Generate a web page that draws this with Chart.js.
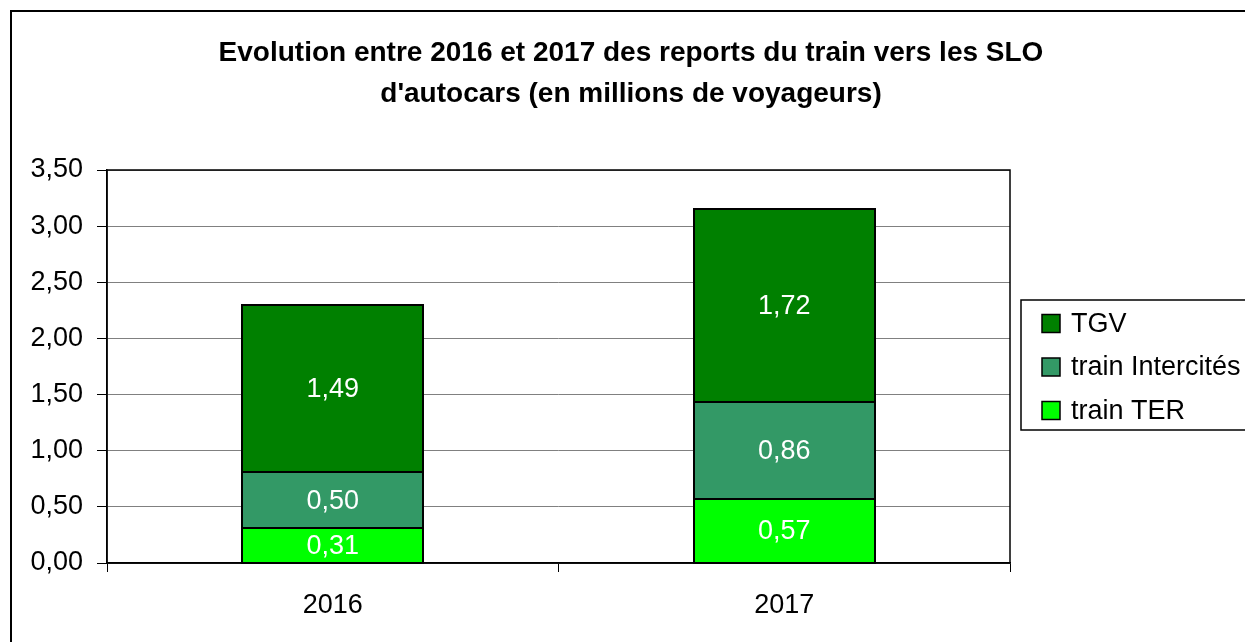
<!DOCTYPE html>
<html>
<head>
<meta charset="utf-8">
<script src="https://cdn.jsdelivr.net/npm/chart.js@4/dist/chart.umd.min.js"></script>
<style>
  html, body { margin: 0; padding: 0; background: #fff; }
  #wrap { width: 1245px; height: 642px; position: relative; }
</style>
</head>
<body>
<div id="wrap"><canvas id="chart" width="1245" height="642"></canvas></div>
<script>
// donnees
const years = ["2016", "2017"];
const terValues = [0.31, 0.57];
const interciteValues = [0.50, 0.86];
const tgvValues = [1.49, 1.72];
const seriesNames = ["train TER", "train Intercités", "TGV"];
const seriesColors = ["#00FF00", "#339966", "#008000"];
const titleLines = ["Evolution entre 2016 et 2017 des reports du train vers les SLO", "d'autocars (en millions de voyageurs)"];

const FONT = "'Liberation Sans', Arial, sans-serif";

function fmt(v) {
  return v.toFixed(2).replace(".", ",");
}

// cadre, titre, bordure de la zone de tracé, étiquettes et légende
const decorPlugin = {
  id: "decor",
  afterDraw(chart) {
    const ctx = chart.ctx;
    const area = chart.chartArea;
    ctx.save();

    // cadre exterieur
    ctx.strokeStyle = "#000";
    ctx.lineWidth = 2;
    ctx.strokeRect(11, 11, 1260, 660);

    // titre
    ctx.fillStyle = "#000";
    ctx.font = "bold 28px " + FONT;
    ctx.textAlign = "center";
    ctx.textBaseline = "middle";
    ctx.fillText(titleLines[0], 631, 53);
    ctx.fillText(titleLines[1], 631, 94);

    // bordure zone de tracé
    ctx.lineWidth = 1.5;
    ctx.strokeRect(area.left, area.top, area.right - area.left, area.bottom - area.top);

    // contours des barres
    ctx.strokeStyle = "#000";
    ctx.lineWidth = 2;
    chart.data.datasets.forEach((ds, i) => {
      chart.getDatasetMeta(i).data.forEach((bar) => {
        const x0 = Math.round(bar.x - bar.width / 2);
        const x1 = Math.round(bar.x + bar.width / 2);
        const y0 = Math.round(bar.y);
        const y1 = Math.round(bar.base);
        ctx.strokeRect(x0, y0, x1 - x0, y1 - y0);
      });
    });

    // valeurs dans les barres
    ctx.fillStyle = "#fff";
    ctx.font = "27px " + FONT;
    chart.data.datasets.forEach((ds, i) => {
      chart.getDatasetMeta(i).data.forEach((bar, j) => {
        const mid = (bar.y + bar.base) / 2;
        ctx.fillText(fmt(ds.data[j]), bar.x, mid + 1);
      });
    });

    // légende
    const lx = 1021, ly = 300;
    ctx.fillStyle = "#fff";
    ctx.fillRect(lx, ly, 240, 130);
    ctx.strokeStyle = "#000";
    ctx.lineWidth = 1.5;
    ctx.strokeRect(lx, ly, 240, 130);
    ctx.font = "27px " + FONT;
    ctx.textAlign = "left";
    const order = [2, 1, 0];
    order.forEach((idx, k) => {
      const y = 323.5 + k * 43.5;
      ctx.fillStyle = seriesColors[idx];
      ctx.fillRect(lx + 21, y - 9, 18, 18);
      ctx.strokeStyle = "#000";
      ctx.lineWidth = 1.5;
      ctx.strokeRect(lx + 21, y - 9, 18, 18);
      ctx.fillStyle = "#000";
      ctx.fillText(seriesNames[idx], lx + 50, y + 1);
    });

    ctx.restore();
  }
};

const datasets = [terValues, interciteValues, tgvValues].map((vals, i) => ({
  label: seriesNames[i],
  data: vals,
  backgroundColor: seriesColors[i],
  borderWidth: 0,
  categoryPercentage: 0.4,
  barPercentage: 1.0
}));

new Chart(document.getElementById("chart"), {
  type: "bar",
  data: { labels: years, datasets: datasets },
  options: {
    responsive: false,
    animation: false,
    layout: { padding: { left: 0, top: 170, right: 235, bottom: 0 } },
    plugins: {
      legend: { display: false },
      title: { display: false },
      tooltip: { enabled: false }
    },
    scales: {
      x: {
        stacked: true,
        grid: {
          drawOnChartArea: false,
          offset: true,
          tickLength: 9,
          color: "#000",
          tickColor: "#000"
        },
        border: { color: "#000", width: 1.5 },
        ticks: {
          color: "#000",
          padding: 17,
          font: { family: FONT, size: 27 }
        },
        afterFit(scale) { scale.height = 79; }
      },
      y: {
        stacked: true,
        min: 0,
        max: 3.5,
        grid: {
          color: "#808080",
          lineWidth: 1,
          tickLength: 10,
          tickColor: "#000"
        },
        border: { color: "#000", width: 1.5 },
        ticks: {
          stepSize: 0.5,
          color: "#000",
          padding: 14,
          font: { family: FONT, size: 27 },
          callback: (v) => fmt(v)
        },
        afterFit(scale) { scale.width = 107; }
      }
    }
  },
  plugins: [decorPlugin]
});
</script>
</body>
</html>
